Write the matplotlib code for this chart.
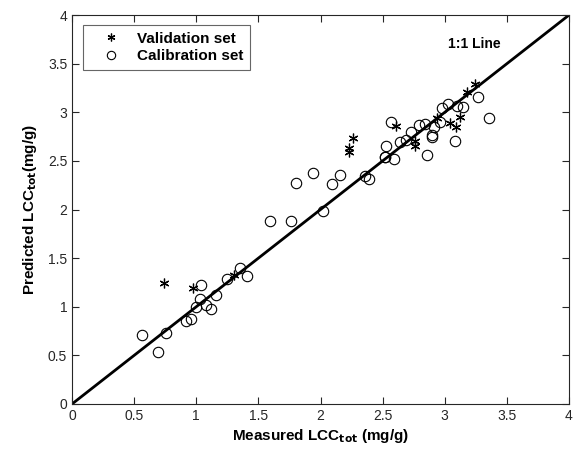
import numpy as np
import matplotlib
matplotlib.use('Agg')
import matplotlib.pyplot as plt

plt.rcParams['font.family'] = ['Liberation Sans', 'DejaVu Sans']

# --- data ---
cal_measured = [0.56, 0.69, 0.76, 0.92, 0.96, 1.00, 1.04, 1.03, 1.08, 1.12, 1.16,
                1.25, 1.35, 1.41, 1.59, 1.76, 1.80, 1.94, 2.02, 2.09, 2.16, 2.36,
                2.39, 2.52, 2.53, 2.52, 2.59, 2.57, 2.64, 2.69, 2.73, 2.79, 2.84,
                2.86, 2.90, 2.90, 2.91, 2.96, 2.98, 3.03, 3.10, 3.08, 3.15, 3.27,
                3.36]
cal_predicted = [0.71, 0.53, 0.73, 0.85, 0.87, 1.00, 1.22, 1.08, 1.02, 0.98, 1.12,
                 1.29, 1.40, 1.32, 1.88, 1.88, 2.27, 2.38, 1.99, 2.26, 2.36, 2.35,
                 2.31, 2.54, 2.65, 2.54, 2.52, 2.90, 2.69, 2.72, 2.80, 2.87, 2.88,
                 2.56, 2.77, 2.75, 2.85, 2.90, 3.04, 3.09, 3.06, 2.70, 3.05, 3.16,
                 2.94]

val_measured = [0.74, 0.97, 1.30, 2.23, 2.23, 2.26, 2.61, 2.76, 2.76, 2.94, 3.04,
                3.09, 3.12, 3.18, 3.24]
val_predicted = [1.24, 1.19, 1.33, 2.59, 2.63, 2.74, 2.86, 2.70, 2.65, 2.94, 2.89,
                 2.85, 2.95, 3.21, 3.29]

ticks = [0, 0.5, 1, 1.5, 2, 2.5, 3, 3.5, 4]
tick_labels = ['0', '0.5', '1', '1.5', '2', '2.5', '3', '3.5', '4']

fig = plt.figure(figsize=(5.78, 4.57), dpi=100)
ax = fig.add_axes([0.1246, 0.116, 0.8598, 0.851])

# 1:1 line
ax.plot([0, 4], [0, 4], color='black', lw=2, zorder=1)

ax.plot(val_measured, val_predicted, linestyle='none', marker=(6, 2, 0),
        markersize=7, markeredgewidth=0.9, color='black', label='Validation set', zorder=3)
ax.plot(cal_measured, cal_predicted, linestyle='none', marker='o',
        markersize=7.5, markeredgewidth=0.8, markerfacecolor='none',
        markeredgecolor='black', label='Calibration set', zorder=2)

ax.text(3.03, 3.70, '1:1 Line', fontsize=10, fontweight='bold', va='center')

ax.set_xlim(0, 4)
ax.set_ylim(0, 4)
ax.set_xticks(ticks)
ax.set_yticks(ticks)
ax.set_xticklabels(tick_labels)
ax.set_yticklabels(tick_labels)
ax.tick_params(direction='in', top=True, right=True, labelsize=10,
               colors='#262626', length=5, width=0.8)
for sp in ax.spines.values():
    sp.set_linewidth(0.8)
    sp.set_color('#262626')

ax.set_xlabel(r'Measured LCC$_{\mathbf{tot}}$ (mg/g)', fontsize=11, fontweight='bold', labelpad=3)
ax.set_ylabel(r'Predicted LCC$_{\mathbf{tot}}$(mg/g)', fontsize=11, fontweight='bold', labelpad=6)

leg = ax.legend(loc='upper left', bbox_to_anchor=(0.022, 0.975), fancybox=False,
                prop={'weight': 'bold', 'size': 11}, handletextpad=0.3,
                borderpad=0.45, labelspacing=0.25, handlelength=2.8,
                markerscale=0.8, borderaxespad=0)
leg.get_frame().set_edgecolor('#404040')
leg.get_frame().set_linewidth(0.8)

fig.savefig('out.png', dpi=100)
